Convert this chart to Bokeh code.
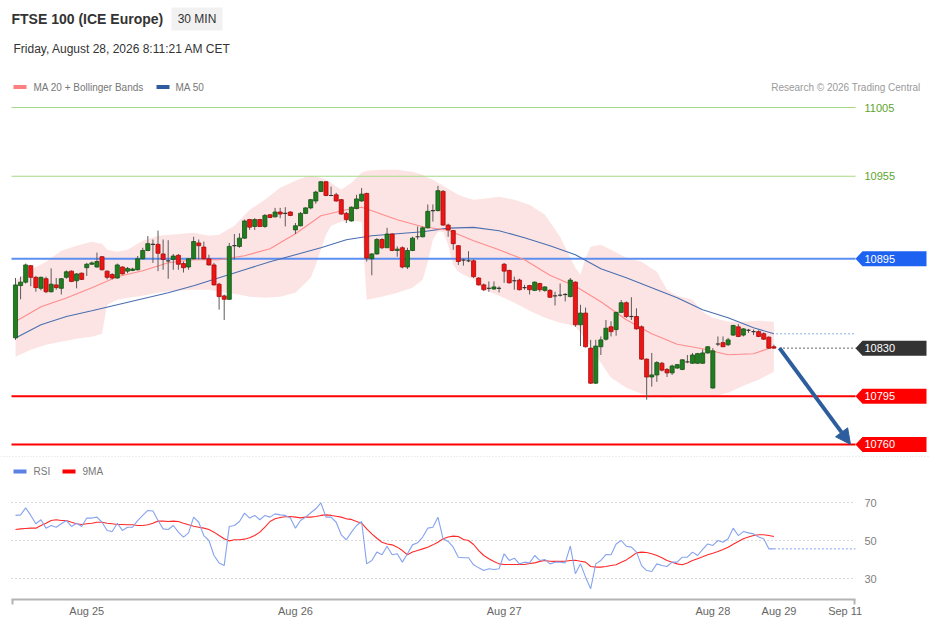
from bokeh.plotting import figure
from bokeh.models import Range1d, FixedTicker, Arrow, NormalHead
from bokeh.core.properties import value
from bokeh.embed import file_html
from bokeh.resources import INLINE

# ---------------- data (30-min bars, index based) ----------------
opens = [
10837.5, 10875.5, 10878, 10890, 10881.5, 10873.5, 10880.5, 10871, 10876, 10873.5,
10881.5, 10886, 10879, 10884.5, 10888.5, 10891, 10889, 10896.5, 10886, 10883.5,
10881, 10889, 10886, 10886.5, 10887, 10895, 10901, 10905.5, 10905.5, 10898.5,
10893.5, 10894.5, 10897.5, 10891.5, 10889, 10895, 10906.5, 10903.5, 10895, 10890.5,
10876.5, 10868, 10865.5, 10904.5, 10904, 10910, 10923.5, 10918.5, 10923.5, 10918.5,
10927, 10925.5, 10929, 10928, 10929, 10916, 10919, 10928, 10932, 10937,
10944, 10951, 10941, 10941.5, 10938, 10928, 10922.5, 10931.5, 10937, 10942.5,
10895, 10898.5, 10909, 10903, 10913, 10901, 10903, 10889, 10901, 10911,
10911, 10917.5, 10930, 10930, 10944, 10919.5, 10915.5, 10904.5, 10894, 10893.5,
10893.5, 10881, 10876, 10873.5, 10873, 10873.5, 10891, 10886.5, 10879, 10879.5,
10874, 10875.5, 10872, 10877, 10872, 10872, 10868, 10868.5, 10869, 10867.5,
10878, 10847, 10855.5, 10830, 10804.5, 10831, 10836.5, 10845.5, 10843.5, 10856,
10863, 10853, 10853, 10845.5, 10822, 10809, 10810.5, 10819, 10814.5, 10812,
10815.5, 10814.5, 10820, 10819, 10819, 10819, 10826.5, 10801, 10833, 10834,
10832.5, 10839.5, 10845.5, 10839.5, 10843, 10842, 10842, 10840.5, 10838, 10831]
highs = [
10881, 10882, 10891.5, 10890.5, 10882.5, 10882, 10882, 10888, 10881, 10881,
10886.5, 10886.5, 10884.5, 10885, 10892, 10893, 10899.5, 10897, 10886.5, 10884.5,
10891.5, 10889.5, 10889, 10888.5, 10897, 10903, 10911.5, 10909, 10915.5, 10909,
10908.5, 10898.5, 10898.5, 10893, 10895.5, 10911, 10909, 10907.5, 10898, 10892,
10877.5, 10869, 10906.5, 10913, 10913.5, 10923.5, 10924, 10924.5, 10924, 10927.5,
10927.5, 10932, 10932, 10932.5, 10929.5, 10921, 10929, 10932.5, 10938.5, 10944.5,
10951.5, 10951.5, 10947.5, 10943, 10938.5, 10929, 10933, 10941.5, 10946.5, 10943,
10899, 10910, 10910, 10917.5, 10913.5, 10904, 10904, 10903, 10911, 10918.5,
10918.5, 10934.5, 10934.5, 10948, 10945, 10920.5, 10916, 10905, 10895, 10900.5,
10894.5, 10881.5, 10877, 10878.5, 10878.5, 10875, 10892, 10887, 10882, 10880.5,
10876, 10876, 10878.5, 10877.5, 10875, 10873, 10871, 10877, 10870, 10881,
10878.5, 10861.5, 10859.5, 10836, 10836, 10838.5, 10850.5, 10849.5, 10856.5, 10865,
10864, 10867, 10859, 10846.5, 10822.5, 10826.5, 10820.5, 10820, 10815.5, 10818,
10818.5, 10822, 10825, 10826.5, 10826.5, 10829, 10831.5, 10830, 10838.5, 10838.5,
10837.5, 10847, 10847.5, 10844.5, 10844, 10843.5, 10843, 10841.5, 10838.5, 10832.5]
lows = [
10836, 10865.5, 10877, 10875, 10871, 10872, 10870, 10870.5, 10872.5, 10869,
10880.5, 10878, 10873.5, 10879.5, 10882.5, 10890.5, 10888.5, 10886.5, 10880, 10880,
10880.5, 10883.5, 10884.5, 10886, 10886.5, 10894.5, 10900.5, 10892, 10886, 10887,
10880.5, 10887, 10887, 10885, 10887, 10894.5, 10894.5, 10894.5, 10890, 10875.5,
10858, 10850.5, 10865, 10894.5, 10903, 10909.5, 10916, 10916, 10918, 10917.5,
10924.5, 10925, 10924.5, 10918.5, 10926, 10913, 10918.5, 10927.5, 10931, 10935,
10943.5, 10940.5, 10940.5, 10936.5, 10927, 10921, 10922, 10931, 10936.5, 10893,
10883, 10898, 10902, 10903, 10900.5, 10896.5, 10888, 10887.5, 10900.5, 10909,
10910.5, 10917, 10922, 10929.5, 10919, 10911, 10901.5, 10890.5, 10890, 10892.5,
10881, 10875.5, 10871.5, 10871, 10872.5, 10870.5, 10877.5, 10877, 10872.5, 10872,
10872.5, 10869, 10871.5, 10871, 10871, 10866.5, 10861, 10867.5, 10864, 10867,
10845.5, 10831.5, 10830.5, 10804, 10804, 10825, 10835.5, 10838.5, 10839, 10855.5,
10852, 10850.5, 10843.5, 10821.5, 10792.5, 10802, 10805.5, 10813, 10809, 10810.5,
10815, 10814, 10819, 10818.5, 10818.5, 10818.5, 10826, 10800.5, 10831.5, 10831,
10831.5, 10839, 10838, 10838.5, 10841, 10839.5, 10838, 10836, 10829.5, 10829.5]
closes = [
10876, 10878, 10890.5, 10881.5, 10874, 10881.5, 10871, 10876.5, 10874, 10880.5,
10885.5, 10878.5, 10884, 10880, 10891, 10892, 10893, 10887, 10881.5, 10881,
10890.5, 10884, 10888, 10887.5, 10895, 10901, 10906, 10905.5, 10899, 10894.5,
10893.5, 10897, 10891, 10888.5, 10895, 10907.5, 10904.5, 10895, 10890.5, 10876,
10867.5, 10865.5, 10904, 10904.5, 10910, 10922.5, 10918, 10923.5, 10918.5, 10926.5,
10925, 10929, 10927.5, 10928, 10926.5, 10919, 10928, 10932, 10938, 10943.5,
10951, 10941, 10941, 10937, 10927.5, 10923.5, 10932.5, 10938.5, 10942, 10895.5,
10898.5, 10909, 10903, 10913, 10901, 10902, 10889, 10901, 10910, 10911,
10917.5, 10929.5, 10930, 10944.5, 10919.5, 10916, 10906, 10893, 10894, 10893.5,
10882, 10876, 10872.5, 10873.5, 10874.5, 10873.5, 10886, 10877.5, 10879, 10872.5,
10874, 10872.5, 10878, 10872.5, 10874.5, 10867, 10868, 10868.5, 10869, 10879.5,
10847, 10855.5, 10831, 10804.5, 10831.5, 10836, 10844.5, 10842, 10856, 10863,
10853, 10853, 10844, 10822, 10809, 10810.5, 10819.5, 10814, 10812, 10817,
10818, 10821.5, 10820, 10825, 10826, 10826.5, 10831, 10828, 10833, 10831,
10836, 10846.5, 10838.5, 10844, 10843, 10842, 10838.5, 10836.5, 10830, 10830]

ma20_idx = [0, 5, 10, 15, 20, 25, 30, 35, 40, 45, 50, 55, 60, 65, 68, 70, 75, 80, 85, 90,
            95, 100, 105, 110, 115, 120, 125, 130, 135, 140, 145, 149]
ma20 = [10849.4, 10860.1, 10866.4, 10873.9, 10881.9, 10886.3, 10892.1, 10894.3, 10894.3, 10897.2,
        10902.3, 10913.2, 10926.3, 10930.6, 10932.4, 10929.9, 10923.4, 10918.3, 10915.7, 10908.1,
        10901.5, 10894.3, 10883.0, 10875.0, 10863.7, 10850.6, 10840.4, 10832.8, 10829.5, 10825.2,
        10825.9, 10831.0]

ma50_idx = [0, 5, 10, 15, 20, 25, 30, 35, 40, 45, 50, 55, 60, 65, 70, 75, 80, 85, 90, 95,
            100, 105, 110, 115, 120, 125, 130, 135, 140, 145, 149]
ma50 = [10837.3, 10847, 10853, 10857.2, 10861.5, 10865.9, 10870.3, 10875.4, 10881.2, 10887,
        10892.8, 10897.9, 10903, 10908.8, 10911.7, 10913.2, 10914.6, 10917.3, 10917.8, 10915.4,
        10910.3, 10904.4, 10897.9, 10887.7, 10881.2, 10873.9, 10866.6, 10857.9, 10852.1, 10844.8,
        10840.4]

band_idx = [0, 3, 6, 9, 12, 15, 17, 18, 20, 22, 25, 28, 31, 35, 38, 40, 43, 46, 49, 52,
            55, 57, 58, 59, 60, 61, 62, 64, 66, 68, 69, 72, 75, 78, 80, 81, 82, 83, 84, 85,
            86, 87, 88, 90, 92, 95, 98, 101, 104, 107, 109, 110, 111, 112, 113, 115, 117, 120, 123, 126,
            128, 130, 133, 135, 137, 140, 143, 146, 149]
band_upper = [10879, 10887, 10892.8, 10900.8, 10904.4, 10907.4, 10905.9, 10901.5, 10900.1, 10901.5,
              10908.1, 10911.7, 10912.7, 10913.9, 10911.7, 10912.4, 10919, 10930.6, 10937.9, 10946.6,
              10951.7, 10954.6, 10955.4, 10954.6, 10953.9, 10952.4, 10950.3, 10945.2, 10950.3, 10957.5,
              10959, 10959.7, 10959.7, 10958.3, 10956.1, 10953.9, 10952.4, 10950.3, 10948.1, 10945.9,
              10943.7, 10941.5, 10940.1, 10937.9, 10938.6, 10940.1, 10937.9, 10934.3, 10927, 10911,
              10895.7, 10888.4, 10883.4, 10895.7, 10903.7, 10905.2, 10901.5, 10895.7, 10892.8, 10885.5,
              10872.4, 10868.1, 10865.2, 10856.4, 10852.1, 10849.2, 10849.2, 10849.9, 10849.2]
band_lower = [10823.7, 10828.8, 10832.4, 10834.6, 10836.8, 10838.3, 10840.4, 10861.5, 10865.2, 10866.6,
              10868.1, 10870.3, 10871.7, 10872.4, 10872.4, 10871, 10869.5, 10867.4, 10866.6, 10867.4,
              10870.3, 10877.5, 10881.2, 10890.6, 10901.5, 10912.4, 10919, 10921.9, 10922.6, 10921.9,
              10865.2, 10867.4, 10870.3, 10873.9, 10879.7, 10892.8, 10908.8, 10914.6, 10914.6, 10905.2,
              10890.6, 10885.5, 10883.4, 10879.7, 10872.4, 10868.1, 10863, 10857.2, 10852.1, 10848.4,
              10846.9, 10845.5, 10841.1, 10836.1, 10831, 10819.3, 10808.4, 10801.2, 10796.8, 10794.6,
              10793.9, 10794.6, 10795.4, 10795.4, 10794.6, 10797.5, 10802.6, 10807, 10812.8]

rsi = [
63.2, 63.5, 67.2, 63.2, 58.8, 60.9, 56.5, 57.9, 57.0, 58.8,
60.5, 57.4, 59.1, 57.4, 61.8, 61.8, 62.3, 59.6, 55.3, 54.7,
59.1, 55.3, 57.0, 57.0, 60.5, 63.2, 65.8, 65.5, 60.5, 56.1,
55.8, 57.9, 54.4, 51.8, 54.0, 62.3, 59.6, 52.6, 50.0, 42.1,
38.2, 36.8, 57.4, 57.9, 60.0, 64.4, 61.8, 63.2, 60.9, 63.2,
62.3, 64.0, 63.5, 63.2, 61.8, 56.5, 60.5, 62.3, 64.6, 66.7,
69.8, 62.3, 62.3, 59.6, 53.0, 50.4, 54.4, 57.9, 60.0, 37.7,
39.5, 43.9, 42.5, 47.0, 42.5, 43.0, 38.6, 43.0, 47.7, 48.8,
51.8, 56.5, 57.0, 62.3, 50.9, 49.5, 46.5, 41.2, 40.9, 40.9,
37.2, 35.6, 34.2, 35.1, 34.7, 35.1, 43.0, 39.5, 40.7, 37.7,
38.6, 38.2, 42.1, 39.5, 40.0, 37.7, 38.6, 38.6, 38.2, 47.0,
32.5, 37.7, 30.7, 24.6, 37.7, 39.5, 42.6, 42.5, 48.2, 50.0,
47.0, 46.5, 43.9, 36.8, 34.2, 33.7, 37.7, 36.8, 36.3, 38.6,
38.6, 41.2, 41.2, 43.9, 42.1, 45.3, 48.2, 47.4, 50.0, 49.1,
50.9, 56.5, 52.6, 54.7, 54.0, 53.5, 51.8, 50.9, 45.6, 45.6]
rsi_ma9 = [
55.8, 56.1, 56.3, 56.5, 56.5, 57.9, 59.1, 60.5, 60.9, 60.5,
60.5, 59.6, 58.8, 58.4, 58.8, 59.1, 59.6, 59.6, 59.1, 58.8,
58.4, 58.4, 58.3, 58.3, 57.9, 57.9, 58.3, 59.1, 60.2, 60.2,
60.0, 60.2, 60.0, 59.1, 58.3, 57.5, 57.0, 56.5, 55.8, 54.4,
52.6, 50.9, 49.8, 50.4, 50.4, 50.7, 51.4, 52.6, 54.4, 57.0,
60.0, 61.4, 62.1, 62.5, 62.6, 62.3, 61.9, 62.3, 62.3, 62.6,
63.2, 63.5, 63.2, 62.8, 62.3, 61.4, 61.1, 60.0, 59.1, 56.1,
53.5, 51.2, 49.1, 48.2, 47.7, 46.5, 44.7, 42.5, 43.9, 44.7,
45.6, 46.5, 47.7, 49.1, 50.9, 51.8, 52.3, 52.1, 50.5, 50.0,
47.9, 44.7, 42.1, 40.4, 39.0, 37.7, 37.4, 37.4, 37.4, 37.4,
37.4, 37.9, 38.2, 39.0, 39.5, 39.1, 39.0, 39.0, 39.1, 39.5,
39.6, 39.1, 38.6, 36.3, 36.0, 36.0, 36.3, 36.8, 37.2, 38.6,
39.8, 41.6, 43.5, 43.9, 43.7, 43.0, 42.1, 40.9, 39.5, 38.6,
37.7, 37.2, 38.2, 39.5, 40.4, 41.4, 42.5, 43.3, 44.2, 45.3,
46.5, 48.0, 49.5, 50.9, 51.8, 52.6, 53.0, 53.0, 52.6, 52.1]

green_levels = [11005, 10955]
pivot_level = 10895
last_price = 10830
support_levels = [10795, 10760]
target_level = 10760
rsi_levels = [70, 50, 30]
tick_pos = [14, 55, 96, 137, 150, 163]
tick_labels = ["Aug 25", "Aug 26", "Aug 27", "Aug 28", "Aug 29", "Sep 11"]

# ---------------- geometry helpers (page pixel -> data) ----------------
PX0, PXS = 15.0, 5.09      # page x of bar 0, pixels per bar
PY0, PYS = 107.0, 1.375    # page y of 11005, pixels per point
RY0, RYS = 540.0, 1.9      # page y of RSI 50, pixels per RSI point
def X(px): return (px - PX0) / PXS
def Y(py): return 11005 - (py - PY0) / PYS
def R(py): return 50 - (py - RY0) / RYS
def DY(dpx): return dpx / PYS

W, H = 929, 628
OFF = 0
FRAME_BOTTOM = 599
FONT = value("Liberation Sans")

p = figure(width=W, height=H, title=None, output_backend="svg", toolbar_location=None,
           x_range=Range1d(X(OFF), X(OFF + W)), y_range=Range1d(Y(FRAME_BOTTOM), Y(OFF)),
           y_axis_location=None, min_border_left=0, min_border_right=0, min_border_top=0,
           min_border_bottom=H - (FRAME_BOTTOM - OFF),
           background_fill_color="white", border_fill_color="white", outline_line_color=None)
p.extra_y_ranges = {"rsi": Range1d(R(FRAME_BOTTOM), R(OFF))}
p.grid.visible = False

ax = p.xaxis[0]
ax.ticker = FixedTicker(ticks=tick_pos, minor_ticks=[X(12), X(854)])
ax.major_label_overrides = {t: l for t, l in zip(tick_pos, tick_labels)}
ax.bounds = (X(11), X(855))
ax.axis_line_color = "#b4b4b4"
ax.axis_line_width = 2
ax.major_tick_line_color = None
ax.major_tick_in = 0
ax.major_tick_out = 0
ax.minor_tick_line_color = "#b4b4b4"
ax.minor_tick_line_width = 2
ax.minor_tick_in = 0
ax.minor_tick_out = 5
ax.major_label_text_font = "Liberation Sans"
ax.major_label_text_font_size = "11px"
ax.major_label_text_color = "#666666"
ax.major_label_standoff = 0

LX0, LX1 = X(11), X(855)

# ---------------- price panel ----------------
p.varea(x=band_idx, y1=band_lower, y2=band_upper, fill_color="#fde4e4")

p.segment(x0=[LX0] * 2, x1=[LX1] * 2, y0=green_levels, y1=green_levels, line_color="#a6d889", line_width=1.2)
p.segment(x0=[LX0], x1=[LX1], y0=[pivot_level], y1=[pivot_level], line_color="#5d8ff0", line_width=2)
p.segment(x0=[LX0] * 2, x1=[LX1] * 2, y0=support_levels, y1=support_levels, line_color="#ff0000", line_width=2)

p.line(ma50_idx, ma50, line_color="#4a6fb0", line_width=1.1)
p.line(ma20_idx, ma20, line_color="#ff8c8c", line_width=1.1)

n = len(closes)
idx = list(range(n))
up = [i for i in idx if closes[i] > opens[i]]
dn = [i for i in idx if closes[i] < opens[i]]
dj = [i for i in idx if closes[i] == opens[i]]
p.segment(x0=idx, x1=idx, y0=highs, y1=lows, line_color="#5a5a5a", line_width=1)
p.vbar(x=up, width=0.8, top=[closes[i] for i in up], bottom=[opens[i] for i in up],
       fill_color="#1f7f1f", line_color="#155215", line_width=0.8)
p.vbar(x=dn, width=0.8, top=[opens[i] for i in dn], bottom=[closes[i] for i in dn],
       fill_color="#f01515", line_color="#a30c0c", line_width=0.8)
p.segment(x0=[i - 0.4 for i in dj], x1=[i + 0.4 for i in dj], y0=[opens[i] for i in dj],
          y1=[opens[i] for i in dj], line_color="#333333", line_width=1.2)

# extensions of last values
p.segment(x0=[ma50_idx[-1] + 0.4], x1=[LX1], y0=[ma50[-1]], y1=[ma50[-1]], line_color="#8fb0e8", line_width=1, line_dash="2 2")
p.segment(x0=[n - 1 + 1.0], x1=[LX1], y0=[last_price], y1=[last_price], line_color="#666666", line_width=1, line_dash="2 2")

ARROW_C = "#2e5d9d"
p.add_layout(Arrow(end=NormalHead(size=15, fill_color=ARROW_C, line_color=ARROW_C),
                   x_start=n - 1 + 1.1, y_start=last_price, x_end=X(850), y_end=target_level,
                   line_color=ARROW_C, line_width=4))

# level tags
tag_levels = [pivot_level, last_price] + support_levels
tag_colors = ["#1d62f0", "#333333", "#ff0000", "#ff0000"]
hh = DY(7.5)
xs, ys = [], []
for lv in tag_levels:
    xs.append([X(855), X(862), X(926), X(926), X(862)])
    ys.append([lv, lv + hh, lv + hh, lv - hh, lv - hh])
p.patches(xs=xs, ys=ys, fill_color=tag_colors, line_color=None)
p.text(x=[X(864)] * len(tag_levels), y=tag_levels, text=[str(v) for v in tag_levels],
       text_font=FONT, text_font_size="11px", text_color="white", text_baseline="middle", text_align="left")
p.text(x=[X(864)] * 2, y=green_levels, text=[str(v) for v in green_levels],
       text_font=FONT, text_font_size="11px", text_color="#5da52e", text_baseline="middle", text_align="left")

# ---------------- header ----------------
p.quad(left=[X(171)], right=[X(222)], top=[Y(7)], bottom=[Y(30)], fill_color="#f1f1f1", line_color=None)
p.text(x=[X(11)], y=[Y(18.5)], text=["FTSE 100 (ICE Europe)"], text_font=FONT, text_font_size="14px",
       text_font_style="bold", text_color="#333333", text_baseline="middle")
p.text(x=[X(196.5)], y=[Y(18.5)], text=["30 MIN"], text_font=FONT, text_font_size="12px",
       text_color="#333333", text_baseline="middle", text_align="center")
p.text(x=[X(13)], y=[Y(48.5)], text=["Friday, August 28, 2026 8:11:21 AM CET"], text_font=FONT,
       text_font_size="12px", text_color="#333333", text_baseline="middle")
p.quad(left=[X(13), X(156)], right=[X(26), X(169)], top=[Y(84.5)] * 2, bottom=[Y(88.5)] * 2,
       fill_color=["#ff8080", "#2e5c9e"], line_color=None)
p.text(x=[X(33), X(175)], y=[Y(86.5)] * 2, text=["MA 20 + Bollinger Bands", "MA 50"], text_font=FONT,
       text_font_size="10px", text_color="#777777", text_baseline="middle")
p.text(x=[X(920)], y=[Y(86.5)], text=["Research \u00a9 2026 Trading Central"], text_font=FONT,
       text_font_size="10px", text_color="#9a9a9a", text_baseline="middle", text_align="right")

# separator between panels
p.segment(x0=[X(0)], x1=[X(929)], y0=[Y(456)], y1=[Y(456)], line_color="#dddddd", line_width=1, line_dash="1 2")

# ---------------- RSI panel ----------------
p.segment(x0=[LX0] * 3, x1=[LX1] * 3, y0=rsi_levels, y1=rsi_levels, line_color="#b5b5b5",
          line_width=1, line_dash="1 3", y_range_name="rsi")
p.text(x=[X(864)] * 3, y=rsi_levels, text=[str(v) for v in rsi_levels], text_font=FONT,
       text_font_size="11px", text_color="#808080", text_baseline="middle", y_range_name="rsi")
p.line(idx, rsi_ma9, line_color="#ff2a2a", line_width=1.1, y_range_name="rsi")
p.line(idx, rsi, line_color="#86a3ee", line_width=1.1, y_range_name="rsi")
p.segment(x0=[n - 1], x1=[LX1], y0=[rsi[-1]], y1=[rsi[-1]], line_color="#86a3ee", line_width=1,
          line_dash="2 2", y_range_name="rsi")
p.quad(left=[X(13), X(62)], right=[X(26), X(75)], top=[R(469)] * 2, bottom=[R(473)] * 2,
       fill_color=["#5b80e6", "#ff0000"], line_color=None, y_range_name="rsi")
p.text(x=[X(33), X(82)], y=[R(471)] * 2, text=["RSI", "9MA"], text_font=FONT, text_font_size="10px",
       text_color="#777777", text_baseline="middle", y_range_name="rsi")

open("out.html", "w").write(file_html(p, INLINE))
